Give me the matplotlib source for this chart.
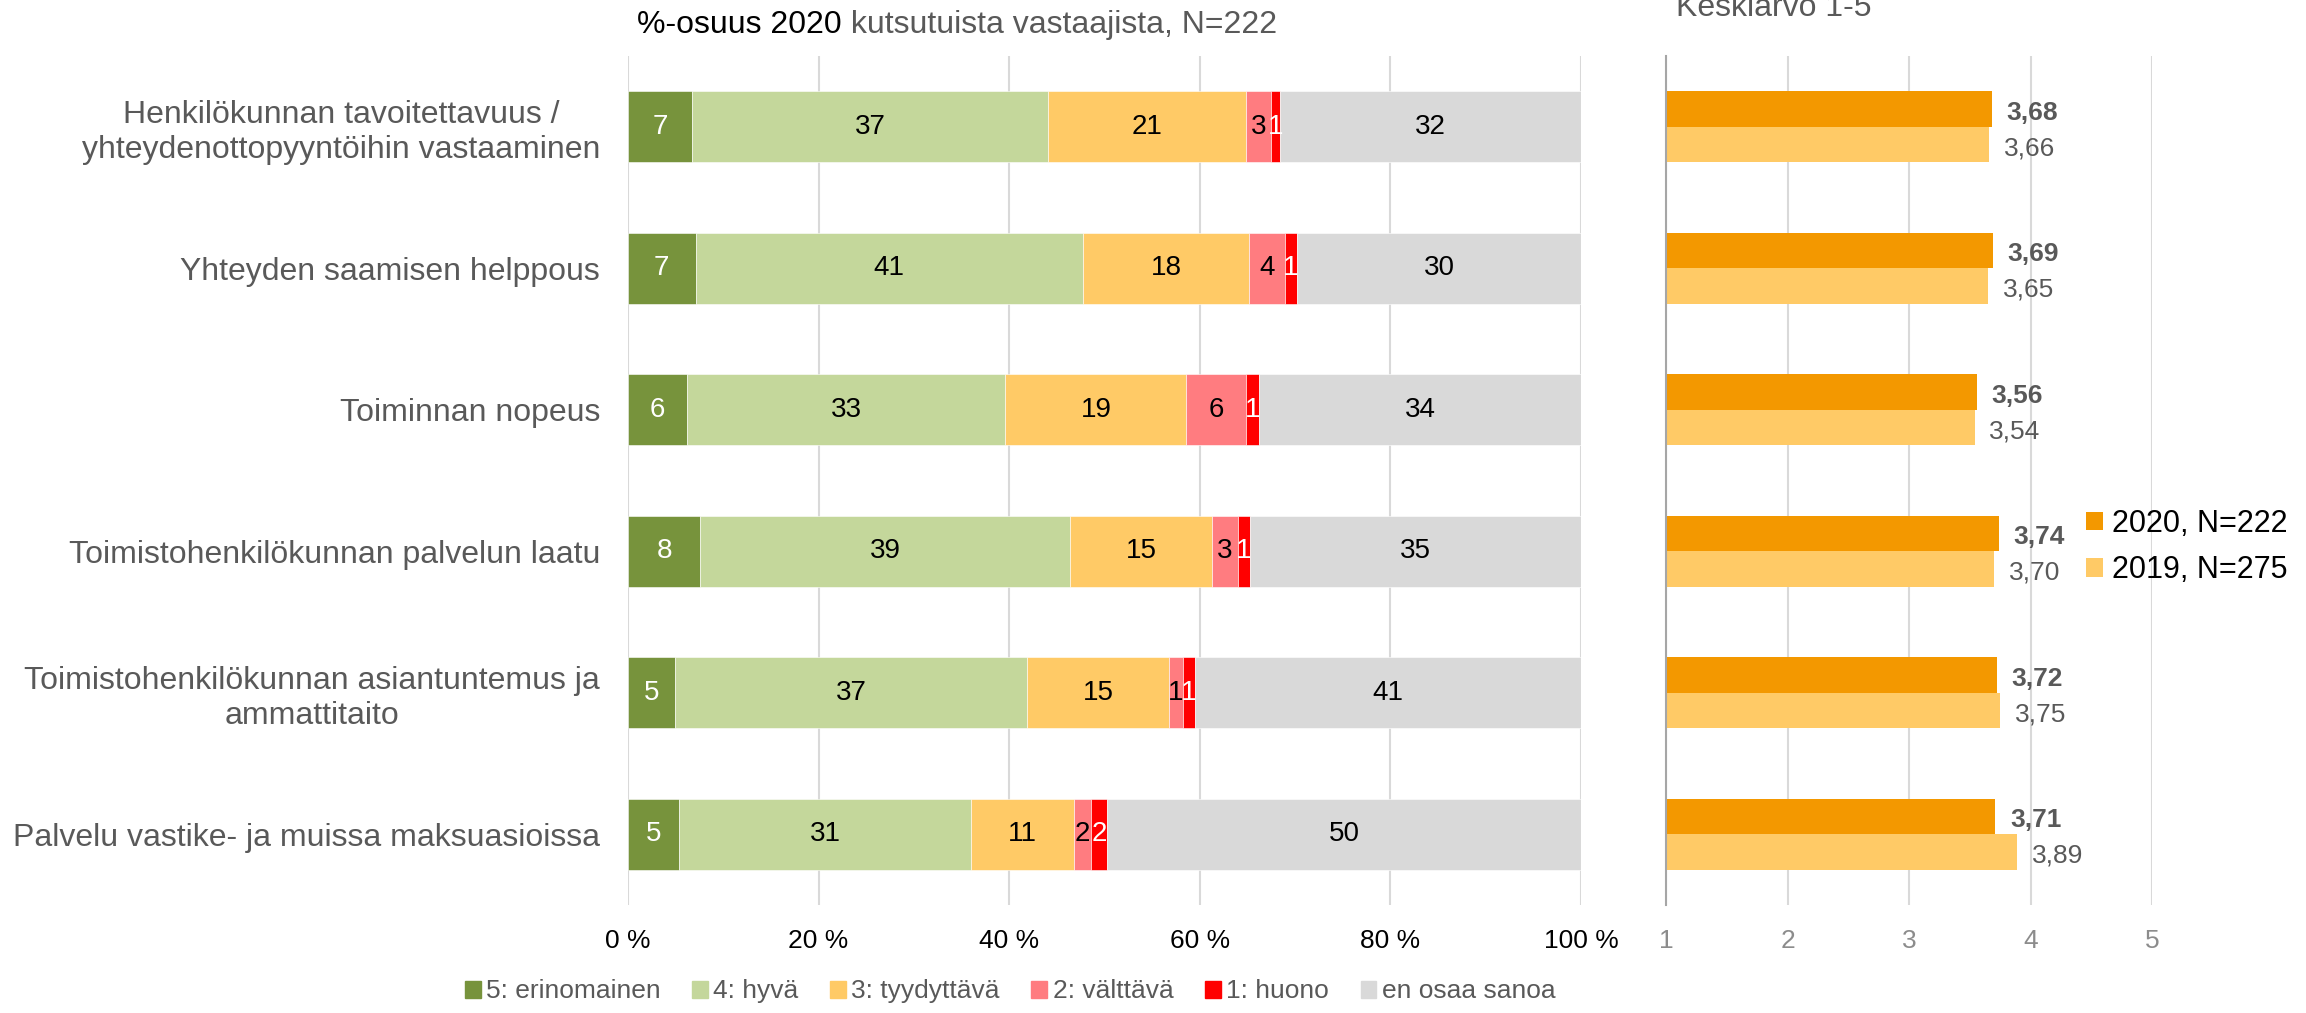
import numpy as np
import matplotlib
matplotlib.use("Agg")
import matplotlib.pyplot as plt
from matplotlib.patches import Patch

plt.rcParams["font.family"] = ["Liberation Sans", "DejaVu Sans"]

categories = [
    "Henkilökunnan tavoitettavuus /\nyhteydenottopyyntöihin vastaaminen",
    "Yhteyden saamisen helppous",
    "Toiminnan nopeus",
    "Toimistohenkilökunnan palvelun laatu",
    "Toimistohenkilökunnan asiantuntemus ja\nammattitaito",
    "Palvelu vastike- ja muissa maksuasioissa",
]
series_names = ["5: erinomainen", "4: hyvä", "3: tyydyttävä", "2: välttävä", "1: huono", "en osaa sanoa"]

# percent shares, labels are the rounded values shown
s5 = [6.7, 7.1, 6.2, 7.6, 4.9, 5.4]
s4 = [37.4, 40.6, 33.4, 38.8, 37.0, 30.6]
s3 = [20.7, 17.5, 19.0, 14.9, 14.9, 10.8]
s2 = [2.7, 3.7, 6.3, 2.7, 1.4, 1.8]
s1 = [0.9, 1.3, 1.3, 1.3, 1.3, 1.7]
s0 = [31.6, 29.8, 33.8, 34.7, 40.5, 49.7]
labels5 = [7, 7, 6, 8, 5, 5]
labels4 = [37, 41, 33, 39, 37, 31]
labels3 = [21, 18, 19, 15, 15, 11]
labels2 = [3, 4, 6, 3, 1, 2]
labels1 = [1, 1, 1, 1, 1, 2]
labels0 = [32, 30, 34, 35, 41, 50]

mean_2020 = [3.68, 3.69, 3.56, 3.74, 3.72, 3.71]
mean_2019 = [3.66, 3.65, 3.54, 3.70, 3.75, 3.89]

colors = ["#77933C", "#C4D79B", "#FFCA66", "#FF7C80", "#FF0000", "#D9D9D9"]
text_colors = ["white", "black", "black", "black", "white", "black"]
grey = "#595959"

fig = plt.figure(figsize=(23.06, 10.13), dpi=100)
ax = fig.add_axes([0.2723, 0.1066, 0.4133, 0.838])
ax2 = fig.add_axes([0.7225, 0.1066, 0.2108, 0.838])

y = np.arange(len(categories))
values = [s5, s4, s3, s2, s1, s0]
labels = [labels5, labels4, labels3, labels2, labels1, labels0]
left = np.zeros(len(categories))
for vals, labs, col, tcol, name in zip(values, labels, colors, text_colors, series_names):
    vals = np.array(vals)
    ax.barh(y, vals, left=left, height=0.5, color=col, edgecolor="white", linewidth=0.4, label=name, zorder=3)
    for i in range(len(y)):
        ax.text(left[i] + vals[i] / 2, y[i], str(labs[i]), ha="center", va="center",
                fontsize=20, color=tcol, zorder=4)
    left += vals

ax.set_xlim(0, 100)
ax.set_ylim(5.5, -0.5)
ax.set_xticks([0, 20, 40, 60, 80, 100])
ax.set_xticklabels(["0 %", "20 %", "40 %", "60 %", "80 %", "100 %"], fontsize=19, color="black")
ax.set_yticks(y)
ax.set_yticklabels(categories, fontsize=23, color=grey, multialignment="center")
ax.tick_params(axis="both", length=0)
ax.tick_params(axis="y", pad=20)
ax.tick_params(axis="x", pad=17)
ax.grid(axis="x", color="#D9D9D9", linewidth=1.5, zorder=0)
for sp in ax.spines.values():
    sp.set_visible(False)

# right panel: means
ax2.barh(y - 0.125, mean_2020, height=0.25, left=0, color="#F39800", label="2020, N=222", zorder=3)
ax2.barh(y + 0.125, mean_2019, height=0.25, left=0, color="#FFCA66", label="2019, N=275", zorder=3)
for i in range(len(y)):
    ax2.text(mean_2020[i] + 0.12, y[i] - 0.1, f"{mean_2020[i]:.2f}".replace(".", ","),
             ha="left", va="center", fontsize=19, fontweight="bold", color=grey)
    ax2.text(mean_2019[i] + 0.12, y[i] + 0.15, f"{mean_2019[i]:.2f}".replace(".", ","),
             ha="left", va="center", fontsize=19, color=grey)
ax2.set_xlim(1, 5)
ax2.set_ylim(5.5, -0.5)
ax2.set_xticks([1, 2, 3, 4, 5])
ax2.set_xticklabels(["1", "2", "3", "4", "5"], fontsize=19, color="#8C8C8C")
ax2.set_yticks([])
ax2.tick_params(axis="both", length=0)
ax2.tick_params(axis="x", pad=17)
ax2.grid(axis="x", color="#D9D9D9", linewidth=1.5, zorder=0)
for sp in ["top", "right", "bottom"]:
    ax2.spines[sp].set_visible(False)
ax2.spines["left"].set_color("#A6A6A6")
ax2.spines["left"].set_linewidth(1.5)
ax2.spines["left"].set_zorder(5)

h, l = ax2.get_legend_handles_labels()
fig.legend(h, l, loc="center left", bbox_to_anchor=(2086 / 2306, 1 - 547 / 1013), frameon=False,
           fontsize=22, handlelength=0.55, handleheight=0.55, handletextpad=0.3, labelspacing=0.55,
           borderaxespad=0.0, borderpad=0.0)

# titles
fig.text(842 / 2306, 1 - 25 / 1013, "%-osuus 2020", ha="right", va="center", fontsize=23, color="black")
fig.text(842 / 2306, 1 - 25 / 1013, " kutsutuista vastaajista, N=222", ha="left", va="center",
         fontsize=23, color=grey)
fig.text(1676 / 2306, 1 - 16 / 1013, "Keskiarvo 1-5", ha="left", va="baseline", fontsize=23, color=grey)

handles = [Patch(color=c) for c in colors]
leg = fig.legend(handles, series_names, loc="lower center", bbox_to_anchor=(1010 / 2306, -0.014),
                 ncol=6, frameon=False, fontsize=19, handlelength=0.6, handleheight=0.6,
                 handletextpad=0.2, columnspacing=1.2)
for t in leg.get_texts():
    t.set_color(grey)

fig.savefig("out.png", dpi=100)
